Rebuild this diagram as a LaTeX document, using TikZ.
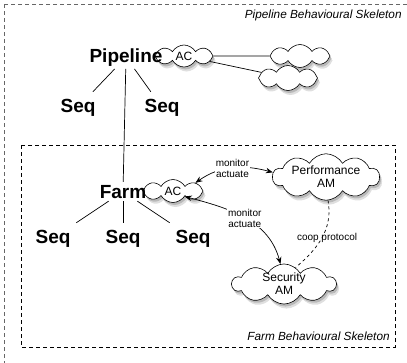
\documentclass[tikz,border=0pt]{standalone}
\usepackage{fontspec}
\setmainfont{Liberation Sans}
\usetikzlibrary{shapes.symbols,shadows,arrows.meta}
\tikzset{
  treenode/.style={font=\fontsize{19}{20}\selectfont\bfseries,inner sep=0pt,outer sep=3pt,anchor=base},
  seqnode/.style={treenode,outer sep=7pt},
  mgrnode/.style={cloud,cloud puffs=8,cloud puff arc=120,cloud ignores aspect,draw,fill=white,line width=0.6pt,
    inner sep=0pt,align=center,font=\fontsize{12}{13}\selectfont,
    drop shadow={shadow xshift=2.5pt,shadow yshift=-4.5pt,opacity=0.25},
    drop shadow={shadow xshift=1.5pt,shadow yshift=-2.5pt,opacity=0.4}},
  msglabel/.style={font=\fontsize{10}{11}\selectfont,align=center,fill=white,inner sep=1pt},
  skeltitle/.style={font=\fontsize{11.8}{13}\selectfont\itshape,anchor=base east,inner sep=0pt},
  skelbox/.style={dash pattern=on 4pt off 3pt,line width=0.6pt}
}

\begin{document}
\begin{tikzpicture}[x=1pt,y=-1pt,line width=0.7pt,>={Stealth[length=7pt,width=5.5pt]}]
 \clip (0,0) rectangle (407,362);
 \draw[skelbox,black!60] (4,4) rectangle (412,368);
 \draw[skelbox] (21,145) rectangle (395,347);
 \node[skeltitle] (pipeTitle) at (402,18.5) {Pipeline Behavioural Skeleton};
 \node[skeltitle] (farmTitle) at (390,340) {Farm Behavioural Skeleton};

 \node[mgrnode,minimum width=58,minimum height=22] (acPipe) at (184,56) {AC};
 \node[mgrnode,minimum width=60,minimum height=23] (cloudA) at (300,56) {};
 \node[mgrnode,minimum width=59,minimum height=25] (cloudB) at (288,78) {};
 \draw (acPipe) -- (cloudA) (acPipe) -- (cloudB);

 \node[mgrnode,minimum width=60,minimum height=23] (acFarm) at (173,191) {AC};
 \node[mgrnode,cloud puffs=10,minimum width=107,minimum height=33] (perfAM) at (326,177) {Performance\\AM};
 \node[mgrnode,cloud puffs=10,minimum width=104,minimum height=37] (secAM) at (284,284) {Security\\AM};

 \node[treenode] (pipeline) at (126,62) {Pipeline};
 \node[seqnode] (seq1) at (78,112) {Seq};
 \node[seqnode] (seq2) at (162,112) {Seq};
 \node[treenode] (farm) at (123,198) {Farm};
 \node[seqnode] (seq3) at (53,243) {Seq};
 \node[seqnode] (seq4) at (123,243) {Seq};
 \node[seqnode] (seq5) at (193,243) {Seq};
 \draw (pipeline) -- (seq1) (pipeline) -- (seq2) (pipeline) -- (farm);
 \foreach \s in {3,4,5}{
     \draw (farm) -- (seq\s);
 }

 \draw[<->] (acFarm.20) to[out=35,in=165] node[msglabel] (mon1) {monitor\\actuate} (perfAM.175);
 \draw[<->] (acFarm.-25) to[out=-15,in=105] node[msglabel] (mon2) {monitor\\actuate} (secAM.100);
 \draw[dashed] (perfAM.-85) to[out=-80,in=40] node[font=\fontsize{10}{11}\selectfont,xshift=5pt] (coop) {coop protocol} (secAM.55);
\end{tikzpicture}
\end{document}
